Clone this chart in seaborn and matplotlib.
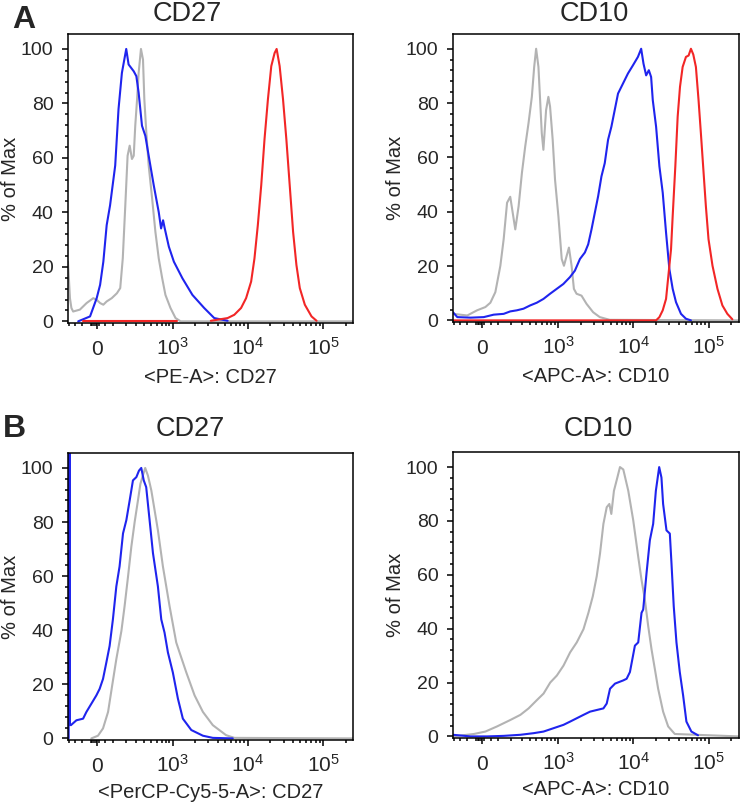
import numpy as np
import matplotlib
matplotlib.use('Agg')
import matplotlib.pyplot as plt
from matplotlib.ticker import FixedLocator
import seaborn as sns

# Panel A, CD27 (<PE-A>), % of Max vs fluorescence
a_cd27_gray_x = [-205, -188, -176, -162, -112, -67, -25, -4, 17, 37, 58, 91, 127, 152, 172, 193, 213, 232,
                 254, 272, 288, 308, 326, 354, 380, 398, 426, 461, 517, 575, 640, 715, 792, 928, 1087, 1272, 250000]
a_cd27_gray_y = [21.9, 8.5, 4.9, 3.6, 4.3, 6.7, 8.5, 7.9, 6.7, 6.1, 7.3, 8.5, 10.3, 12.2, 23.1, 42.6, 60.8, 64.5,
                 59.6, 60.8, 71.8, 81.5, 91.2, 100, 96.1, 81.5, 69.3, 57.2, 45, 32.8, 23.1, 15.8, 9.7, 4.9, 1.2, 0, 0]
a_cd27_blue_x = [-124, -45, -4, 17, 37, 58, 80, 115, 139, 165, 201, 222, 272, 300, 326, 367, 412, 461, 545, 640,
                 690, 735, 775, 882, 1032, 1346, 1832, 2630, 3580, 5400]
a_cd27_blue_y = [0, 1.8, 8.5, 13.4, 21.9, 35.3, 42.6, 57.2, 77.9, 91.2, 100, 94.3, 91.8, 90, 83.9, 71.8, 68.1, 60.8,
                 49.9, 40.1, 34.1, 37.1, 34.1, 27.4, 21.9, 15.8, 9.7, 4.9, 1.2, 0.2]
a_cd27_red_base_x = [-90, 1150]
a_cd27_red_base_y = [0, 0]
a_cd27_red_x = [3228, 5400, 6620, 8150, 9500, 11090, 12280, 13610, 15100, 16710, 18540, 20550, 22750, 24210,
                26550, 29440, 32590, 36140, 40090, 44360, 49200, 57410, 70470, 82220]
a_cd27_red_y = [0.2, 1.2, 2.4, 4.9, 8.5, 14.6, 23.1, 35.3, 49.9, 66.9, 81.5, 93.7, 98.5, 100, 93.7, 81.5, 66.9,
                49.9, 32.8, 20.7, 12.2, 6.1, 1.8, 0.2]

# Panel A, CD10 (<APC-A>)
a_cd10_gray_x = [-205, -96, -33, 18, 49, 81, 115, 139, 165, 191, 236, 269, 304, 342, 384, 430, 465, 496, 535, 565,
                 596, 628, 684, 736, 776, 843, 907, 1007, 1117, 1197, 1396, 1515, 1627, 1766, 2056, 2395, 2934,
                 3595, 4873, 250000]
a_cd10_gray_y = [2.4, 1.8, 3.7, 4.9, 6.5, 10.4, 20.1, 29.9, 43.3, 45.5, 33.5, 42.1, 54.3, 64, 72.6, 82.3, 93.3,
                 100, 93.3, 81.1, 68.9, 62.8, 77.4, 82.3, 78.7, 66.5, 51.8, 38.4, 22.6, 20.1, 26.8, 20.1, 11.6,
                 9.8, 9.1, 6.1, 3, 1.2, 0.2, 0]
a_cd10_blue_x = [-205, -169, -74, 8, 70, 139, 191, 251, 322, 406, 507, 629, 776, 956, 1175, 1438, 1677, 1959,
                 2280, 2523, 2793, 3090, 3420, 3784, 4188, 4634, 5129, 5675, 6281, 7311, 8511, 9908, 11535,
                 12735, 13677, 14825, 16100, 17260, 18155, 20090, 22230, 24600, 27230, 30130, 33340, 36900,
                 42950, 50000, 58210]
a_cd10_blue_y = [3, 1.2, 1, 1.2, 2.1, 2.4, 3.3, 3.7, 4.3, 5.5, 6.5, 7.9, 9.8, 11.6, 13.4, 15.9, 18.3, 22.6, 25,
                 28, 33.5, 39.6, 45.7, 53, 57.9, 66.5, 71.3, 77.4, 83.5, 87.2, 90.9, 93.9, 97, 100, 94.5, 90.2,
                 92.1, 89.6, 81.1, 71.3, 56.7, 47, 32.3, 18.9, 11.6, 6.7, 2.4, 0.6, 0]
a_cd10_red_x = [-205, 20090, 22230, 24600, 27230, 30130, 31700, 33340, 36140, 38820, 41690, 45190, 50000, 54200,
                58210, 62520, 67760, 73450, 78890, 84530, 91830, 99540, 112500, 130900, 152100, 177000, 206100]
a_cd10_red_y = [0, 0, 1.2, 3.7, 7.9, 20.1, 26.2, 38.4, 56.7, 75, 86, 93.3, 97, 97.5, 100, 97.9, 93.3, 81.1, 68.9,
                56.7, 42.1, 29.9, 20.1, 11.6, 5.5, 2.4, 0.4]

# Panel B, CD27 (<PerCP-Cy5-5-A>)
b_cd27_gray_x = [-37, 4, 35, 67, 95, 123, 161, 187, 217, 248, 282, 318, 347, 378, 410, 449, 503, 623, 731, 902,
                 1110, 1231, 1517, 1959, 2529, 3428, 5152, 6653, 250000]
b_cd27_gray_y = [0, 1, 3.7, 9.8, 19.9, 29.3, 39.7, 48.9, 59.9, 70.9, 80.1, 88, 94.1, 97.2, 100, 97.2, 91.7, 77,
                 63.6, 48.9, 35.5, 31.8, 24.4, 15.9, 9.8, 4.9, 1.2, 0.2, 0]
# the first points are the pile-up spike at the bottom of the scale
b_cd27_blue_x = [-199, -199, -188, -188, -180, -137, -90, -68, -37, -6, 14, 35, 56, 77, 99, 123, 147, 174, 202,
                 232, 264, 300, 330, 358, 390, 424, 475, 531, 623, 694, 770, 856, 999, 1170, 1364, 1770, 2529,
                 3428, 6324]
b_cd27_blue_y = [0, 130, 130, 5, 4.9, 6.7, 7.3, 9.8, 12.8, 15.9, 18.3, 22, 28.1, 34.2, 44, 56.2, 63.6, 75.8,
                 80.7, 88, 95.4, 96.6, 99, 100, 95.4, 92.9, 80.7, 68.5, 56.2, 44, 39.1, 31.8, 24.4, 14.7, 7.3,
                 3.1, 1, 0.2, 0]

# Panel B, CD10 (<APC-A>)
b_cd10_gray_x = [-205, -53, 18, 92, 192, 287, 385, 509, 631, 780, 960, 1181, 1448, 1776, 2183, 2541, 2904, 3273,
                 3622, 4018, 4446, 4819, 5117, 5546, 6152, 6668, 7379, 8590, 10000, 11640, 12880, 14260, 15780,
                 17460, 19320, 21380, 24890, 29040, 35560, 250000]
b_cd10_gray_y = [0, 0.9, 1.8, 3.7, 6.1, 8, 10.4, 13.5, 15.9, 20, 22.6, 26.3, 31.2, 34.9, 39.8, 45.9, 52, 59.4,
                 67.9, 78.9, 85.1, 86.3, 82.6, 91.2, 96.1, 100, 99.1, 91.2, 80.2, 66.7, 58.1, 50.8, 41, 32.4,
                 25.1, 17.7, 9.2, 3.7, 0.9, 0]
b_cd10_blue_x = [-205, -75, 29, 139, 287, 456, 631, 1181, 1448, 2183, 2673, 3273, 4018, 4446, 4920, 5728, 7379,
                 8166, 9036, 10520, 11640, 12880, 13550, 15000, 16600, 18370, 19950, 22080, 23660, 24890, 27600,
                 30550, 32140, 34440, 37410, 41400, 45810, 50700, 59020, 72280]
b_cd10_blue_y = [0.6, 0, 0, 0.2, 0.6, 1.2, 1.8, 4.3, 5.5, 8, 9.2, 9.8, 10.4, 12.2, 17.7, 19.6, 20.8, 21.4, 23.9,
                 33.7, 34.9, 45.9, 47.1, 60.6, 72.8, 78.9, 91.2, 100, 96.1, 86.3, 76.5, 75.3, 64.3, 48.3, 34.9,
                 23.9, 15.3, 5.5, 1.8, 0.4]

x_major = [0, 1e3, 1e4, 1e5]
x_major_labels = ['0', r'$\mathregular{10^3}$', r'$\mathregular{10^4}$', r'$\mathregular{10^5}$']
x_minor = ([-200, -150, -100, -40, -30, -20, -10, 10, 50,
            100, 200, 300, 400, 500, 600, 700, 800, 900]
           + [2000, 3000, 4000, 5000, 6000, 7000, 8000, 9000]
           + [20000, 30000, 40000, 50000, 60000, 70000, 80000, 90000, 200000])
y_major = [0, 20, 40, 60, 80, 100]
y_minor = [v for v in range(4, 100, 4) if v % 20]

GRAY = '#b3b3b3'
BLUE = '#1f24ee'
RED = '#f22626'


def biex(x):
    return np.arcsinh(np.asarray(x, dtype=float) / 200.0) / np.log(10)


def biex_inv(y):
    return 200.0 * np.sinh(np.asarray(y, dtype=float) * np.log(10))


def draw(ax, xs, ys, color):
    sns.lineplot(x=xs, y=ys, estimator=None, sort=False, color=color, linewidth=1.5, ax=ax)


def style_axes(ax, title, title_x, title_pad, xlabel, xlabel_y):
    ax.set_xscale('function', functions=(biex, biex_inv))
    ax.set_xlim(-205, 250000)
    ax.set_ylim(-0.6, 105.5)
    ax.xaxis.set_major_locator(FixedLocator(x_major))
    ax.xaxis.set_minor_locator(FixedLocator(x_minor))
    ax.set_xticklabels(x_major_labels)
    ax.yaxis.set_major_locator(FixedLocator(y_major))
    ax.yaxis.set_minor_locator(FixedLocator(y_minor))
    ax.set_yticklabels([str(v) for v in y_major])
    ax.tick_params(axis='both', which='major', direction='out', length=4, width=1.1,
                   color='black', labelsize=14)
    ax.tick_params(axis='both', which='minor', direction='out', length=2.4, width=1.1, color='black')
    ax.tick_params(axis='x', which='major', pad=19, labelsize=15)
    ax.tick_params(axis='y', which='major', pad=6.5)
    for lab in ax.get_xticklabels():
        lab.set_verticalalignment('baseline')
    for s in ax.spines.values():
        s.set_visible(True)
        s.set_color('black')
        s.set_linewidth(1.1)
    ax.set_title(title, fontsize=19.5, x=title_x, pad=title_pad)
    ax.set_xlabel(xlabel, fontsize=14.5)
    ax.xaxis.set_label_coords(0.5, xlabel_y)
    ax.set_ylabel('% of Max', fontsize=14.5)
    ax.yaxis.set_label_coords(-0.168, 0.5)


sns.set_style('ticks')
plt.rcParams['font.family'] = ['Liberation Sans', 'DejaVu Sans']
plt.rcParams['mathtext.fontset'] = 'custom'
plt.rcParams['mathtext.rm'] = 'Liberation Sans'

fig = plt.figure(figsize=(7.42, 8.05), dpi=100)

ax1 = fig.add_axes([0.0916, 0.5988, 0.384, 0.359])
draw(ax1, a_cd27_gray_x, a_cd27_gray_y, GRAY)
draw(ax1, a_cd27_blue_x, a_cd27_blue_y, BLUE)
draw(ax1, a_cd27_red_base_x, a_cd27_red_base_y, RED)
draw(ax1, a_cd27_red_x, a_cd27_red_y, RED)
style_axes(ax1, 'CD27', 0.42, 9, '<PE-A>: CD27', -0.155)

ax2 = fig.add_axes([0.6105, 0.600, 0.385, 0.358])
draw(ax2, a_cd10_gray_x, a_cd10_gray_y, GRAY)
draw(ax2, a_cd10_blue_x, a_cd10_blue_y, BLUE)
draw(ax2, a_cd10_red_x, a_cd10_red_y, RED)
style_axes(ax2, 'CD10', 0.493, 9, '<APC-A>: CD10', -0.155)

ax3 = fig.add_axes([0.0916, 0.0807, 0.384, 0.3565])
draw(ax3, b_cd27_gray_x, b_cd27_gray_y, GRAY)
draw(ax3, b_cd27_blue_x, b_cd27_blue_y, BLUE)
style_axes(ax3, 'CD27', 0.43, 12, '<PerCP-Cy5-5-A>: CD27', -0.148)

ax4 = fig.add_axes([0.6105, 0.0832, 0.385, 0.355])
draw(ax4, b_cd10_gray_x, b_cd10_gray_y, GRAY)
draw(ax4, b_cd10_blue_x, b_cd10_blue_y, BLUE)
style_axes(ax4, 'CD10', 0.507, 12, '<APC-A>: CD10', -0.148)

fig.text(0.016, 0.965, 'A', fontsize=23, fontweight='bold', va='baseline')
fig.text(0.004, 0.457, 'B', fontsize=23, fontweight='bold', va='baseline')

fig.savefig('out.png', dpi=100)
